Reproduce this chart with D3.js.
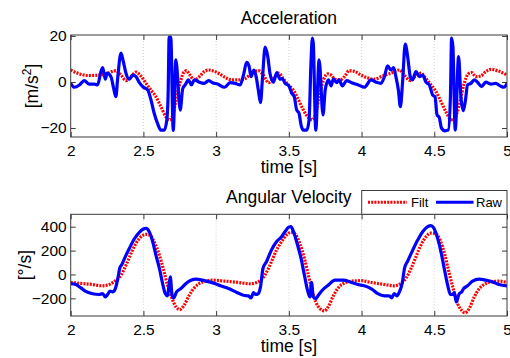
<!DOCTYPE html>
<html>
<head>
<meta charset="utf-8">
<script src="https://cdn.jsdelivr.net/npm/d3@7"></script>
<style>
  body { margin: 0; background: #fff; }
  svg { display: block; font-family: "Liberation Sans", Arial, sans-serif; }
</style>
</head>
<body>
<svg id="chart" width="510" height="358"></svg>
<script>
// tick values
const xTicks = [2, 2.5, 3, 3.5, 4, 4.5, 5];
const accTicks = [-20, 0, 20];
const gyroTicks = [-200, 0, 200, 400];

// acceleration [t, m/s^2]
const accRaw = [
  [2.000,-0.6],[2.025,-2.3],[2.060,-1.3],[2.093,0.6],[2.128,-0.9],[2.162,-0.9],[2.185,-1.3],[2.208,4.5],
  [2.220,6.2],[2.238,1.2],[2.250,3.8],[2.277,2.3],[2.295,-2.7],[2.311,-6.4],[2.322,0.9],[2.346,12.5],
  [2.362,8.8],[2.380,3.8],[2.403,1.2],[2.426,3.0],[2.449,2.3],[2.472,-0.3],[2.500,-2.3],[2.530,-3.5],
  [2.552,-7.8],[2.574,-13.6],[2.597,-18],[2.620,-20.9],[2.643,-20.9],[2.661,-16.5],[2.670,-5],[2.677,19.5],
  [2.688,19.5],[2.705,-21],[2.723,9.6],[2.753,-12.2],[2.770,-3],[2.787,-1.3],[2.810,0.9],[2.830,-1.3],
  [2.850,0.9],[2.884,-0.1],[2.918,-0.6],[2.948,0.6],[2.975,-0.3],[3.010,-0.9],[3.058,-2.3],[3.096,-0.3],
  [3.130,-0.6],[3.165,-1.3],[3.188,3.0],[3.210,8.5],[3.227,6.7],[3.240,2.3],[3.259,5.2],[3.275,2.3],
  [3.290,-3.5],[3.305,-9.0],[3.318,0.9],[3.337,15.1],[3.355,11],[3.370,3.8],[3.394,-0.1],[3.417,4.1],
  [3.440,1.2],[3.455,1.5],[3.474,-0.6],[3.500,-1.7],[3.520,-4.9],[3.537,-6.4],[3.554,-12.2],[3.570,-13.6],
  [3.584,-18.7],[3.600,-20.9],[3.623,-20.9],[3.639,-16.5],[3.652,8.1],[3.662,19],[3.668,16.8],[3.685,-20.9],
  [3.708,9.6],[3.735,-14.3],[3.750,-3.5],[3.772,0.9],[3.790,-1.7],[3.806,1.2],[3.829,-0.3],[3.845,0.9],
  [3.868,-1.7],[3.898,0.6],[3.932,-0.3],[3.978,-1.3],[4.019,-2.3],[4.065,0.9],[4.100,-0.1],[4.133,-0.6],
  [4.157,2.3],[4.179,7.0],[4.202,5.2],[4.220,6.2],[4.236,2.3],[4.253,-3.5],[4.267,-10.7],[4.283,0.9],
  [4.300,16.5],[4.317,11],[4.335,2.3],[4.350,0.9],[4.374,4.5],[4.397,2.3],[4.420,3.0],[4.443,-0.1],
  [4.466,-1.3],[4.489,-5.7],[4.505,-6.4],[4.519,-14.3],[4.534,-15.4],[4.550,-20.1],[4.573,-21.2],[4.596,-20.9],
  [4.611,-6.4],[4.619,19],[4.628,15.4],[4.644,-20.9],[4.667,11],[4.683,-6.4],[4.699,-12.5],[4.713,-8.5],
  [4.729,-1.3],[4.752,-0.6],[4.775,0.9],[4.797,-0.1],[4.825,-2.0],[4.854,-0.1],[4.889,-0.9],[4.923,-0.6],
  [4.953,-1.7],[4.980,-2.3],[5.000,-0.6]
];

const accFilt = [
  [2.000,5.2],[2.060,3.5],[2.128,2.8],[2.196,3.0],[2.242,3.5],[2.311,4.9],[2.346,3.0],[2.380,0.6],
  [2.415,2.3],[2.449,4.3],[2.483,2.6],[2.518,-0.6],[2.552,-3.5],[2.586,-6.4],[2.620,-10.7],[2.655,-15.1],
  [2.683,-16.5],[2.705,-13.6],[2.728,-6.4],[2.751,-0.6],[2.774,3.8],[2.797,4.9],[2.820,3.0],[2.850,0.9],
  [2.884,2.3],[2.918,4.5],[2.948,5.2],[2.980,4.8],[3.016,3.8],[3.062,2.0],[3.108,0.9],[3.153,0.9],
  [3.200,1.5],[3.245,3.8],[3.290,4.9],[3.325,3.0],[3.360,-0.3],[3.394,1.5],[3.430,3.8],[3.460,1.5],
  [3.497,-1.3],[3.530,-3.5],[3.566,-7.8],[3.600,-12.2],[3.634,-15.4],[3.662,-16.5],[3.685,-13.6],[3.708,-6.4],
  [3.738,0.9],[3.768,3.5],[3.790,3.0],[3.818,1.2],[3.852,0.9],[3.886,2.6],[3.914,4.9],[3.955,4.5],
  [3.990,3.2],[4.030,2.0],[4.088,1.2],[4.145,2.6],[4.202,3.8],[4.260,5.2],[4.294,3.0],[4.335,0.6],
  [4.367,2.3],[4.408,3.8],[4.443,1.5],[4.478,-1.3],[4.512,-4.2],[4.546,-8.5],[4.580,-12.9],[4.611,-16.2],
  [4.633,-16.5],[4.656,-13.6],[4.679,-7.8],[4.706,-0.6],[4.733,3.5],[4.756,4.1],[4.786,2.3],[4.820,2.6],
  [4.854,4.5],[4.889,5.5],[4.934,4.9],[5.000,3.0]
];

// angular velocity [t, deg/s]
const gyroRaw = [
  [2.000,-76],[2.035,-84],[2.070,-112],[2.100,-140],[2.150,-162],[2.196,-168],[2.220,-160],[2.238,-188],
  [2.254,-168],[2.270,-140],[2.288,-146],[2.307,-118],[2.322,-48],[2.338,56],[2.352,84],[2.375,148],
  [2.403,218],[2.437,297],[2.472,353],[2.500,381],[2.518,386],[2.540,358],[2.564,274],[2.586,162],
  [2.610,50],[2.632,-76],[2.650,-160],[2.666,-179],[2.675,-100],[2.685,-20],[2.697,-174],[2.708,-196],
  [2.728,-146],[2.758,-118],[2.793,-76],[2.827,-48],[2.862,-39],[2.907,-48],[2.953,-62],[2.990,-75],
  [3.030,-95],[3.085,-118],[3.142,-151],[3.188,-174],[3.222,-179],[3.240,-196],[3.257,-151],[3.270,-168],
  [3.290,-160],[3.305,-104],[3.322,50],[3.346,106],[3.380,204],[3.415,274],[3.450,316],[3.477,364],
  [3.500,398],[3.514,400],[3.536,344],[3.560,246],[3.584,134],[3.607,-6],[3.630,-140],[3.645,-188],
  [3.656,-67],[3.668,-188],[3.685,-202],[3.703,-174],[3.730,-132],[3.770,-90],[3.817,-48],[3.874,-48],
  [3.930,-67],[3.975,-84],[4.019,-95],[4.065,-118],[4.111,-160],[4.157,-179],[4.191,-179],[4.207,-196],
  [4.225,-160],[4.243,-179],[4.260,-146],[4.279,-76],[4.295,50],[4.317,112],[4.352,204],[4.386,288],
  [4.420,358],[4.455,400],[4.477,409],[4.495,392],[4.523,302],[4.546,190],[4.573,22],[4.592,-90],
  [4.611,-168],[4.627,-168],[4.638,-151],[4.651,-230],[4.672,-160],[4.688,-146],[4.702,-118],[4.729,-95],
  [4.763,-56],[4.809,-39],[4.854,-48],[4.900,-62],[4.945,-84],[5.000,-95]
];

const gyroFilt = [
  [2.000,-67],[2.080,-76],[2.150,-84],[2.220,-95],[2.265,-84],[2.311,-48],[2.346,-6],[2.380,78],
  [2.415,176],[2.449,260],[2.483,316],[2.518,336],[2.545,330],[2.574,274],[2.610,162],[2.636,50],
  [2.666,-90],[2.697,-202],[2.724,-272],[2.750,-294],[2.780,-258],[2.815,-174],[2.850,-112],[2.884,-76],
  [2.930,-56],[2.975,-48],[3.062,-56],[3.153,-67],[3.233,-78],[3.279,-67],[3.314,-39],[3.348,22],
  [3.380,106],[3.415,204],[3.450,274],[3.483,330],[3.518,353],[3.545,336],[3.575,260],[3.607,134],
  [3.634,-6],[3.657,-118],[3.685,-230],[3.714,-286],[3.744,-305],[3.770,-272],[3.806,-179],[3.840,-112],
  [3.874,-76],[3.930,-56],[4.000,-52],[4.065,-67],[4.157,-84],[4.225,-95],[4.270,-76],[4.304,-34],
  [4.340,50],[4.374,148],[4.408,246],[4.443,316],[4.477,347],[4.510,342],[4.540,288],[4.573,162],
  [4.603,8],[4.633,-132],[4.660,-244],[4.688,-300],[4.710,-322],[4.740,-286],[4.775,-188],[4.810,-118],
  [4.843,-84],[4.889,-62],[4.945,-56],[5.000,-67]
];

const svg = d3.select('#chart');
const left = 70.7, right = 507;
const boxColor = '#3a3a3a';

const x = d3.scaleLinear().domain([2, 5]).range([left, right]);

function panel({ top, bottom, yDomain, yTicks, title, ylabel, raw, filt, clipId }) {
  const y = d3.scaleLinear().domain(yDomain).range([bottom, top]);
  const g = svg.append('g');

  // grid
  g.selectAll('line.grid')
    .data(xTicks.slice(1, -1))
    .enter()
    .append('line')
    .attr('x1', d => x(d)).attr('x2', d => x(d))
    .attr('y1', top).attr('y2', bottom)
    .attr('stroke', '#c8c8c8')
    .attr('stroke-width', 0.8)
    .attr('stroke-dasharray', '1,2');

  g.append('clipPath').attr('id', clipId)
    .append('rect')
    .attr('x', left).attr('y', top)
    .attr('width', right - left).attr('height', bottom - top);

  const line = d3.line()
    .x(d => x(d[0]))
    .y(d => y(d[1]))
    .curve(d3.curveMonotoneX);

  const plot = g.append('g').attr('clip-path', `url(#${clipId})`);
  plot.append('path')
    .datum(filt)
    .attr('d', line)
    .attr('fill', 'none')
    .attr('stroke', '#ff0000')
    .attr('stroke-width', 3.2)
    .attr('stroke-dasharray', '2,1.2');
  plot.append('path')
    .datum(raw)
    .attr('d', line)
    .attr('fill', 'none')
    .attr('stroke', '#0000ff')
    .attr('stroke-width', 3.2)
    .attr('stroke-linejoin', 'round');

  // axes with inward ticks
  const styleAxis = sel => {
    sel.select('.domain').remove();
    sel.selectAll('.tick line').attr('stroke', boxColor);
    sel.selectAll('.tick text').attr('fill', '#000').style('font-size', '15.5px');
  };

  g.append('g')
    .attr('transform', `translate(0,${bottom})`)
    .call(d3.axisBottom(x).tickValues(xTicks).tickSize(-5).tickPadding(7.5).tickFormat(d3.format('')))
    .call(styleAxis);
  g.append('g')
    .attr('transform', `translate(0,${top})`)
    .call(d3.axisTop(x).tickValues(xTicks).tickSize(-5).tickFormat(''))
    .call(styleAxis);
  g.append('g')
    .attr('transform', `translate(${left},0)`)
    .call(d3.axisLeft(y).tickValues(yTicks).tickSize(-5).tickPadding(4))
    .call(styleAxis);
  g.append('g')
    .attr('transform', `translate(${right},0)`)
    .call(d3.axisRight(y).tickValues(yTicks).tickSize(-5).tickFormat(''))
    .call(styleAxis);

  g.append('rect')
    .attr('x', left).attr('y', top)
    .attr('width', right - left).attr('height', bottom - top)
    .attr('fill', 'none')
    .attr('stroke', boxColor);

  const cx = (left + right) / 2;
  g.append('text')
    .attr('x', cx).attr('y', top - 11.5)
    .attr('text-anchor', 'middle')
    .style('font-size', '17.5px')
    .text(title);

  g.append('text')
    .attr('x', cx).attr('y', bottom + 36)
    .attr('text-anchor', 'middle')
    .style('font-size', '17.5px')
    .text('time [s]');

  const yl = g.append('text')
    .attr('transform', `translate(${ylabel.x},${(top + bottom) / 2}) rotate(-90)`)
    .attr('text-anchor', 'middle')
    .style('font-size', '17.5px');
  yl.append('tspan').text(ylabel.text);
  if (ylabel.sup) {
    yl.append('tspan').attr('dy', -7).style('font-size', '12px').text(ylabel.sup);
    yl.append('tspan').attr('dy', 7).text(ylabel.tail);
  }

  return g;
}

panel({
  top: 35, bottom: 137,
  yDomain: [-23.9, 20.4], yTicks: accTicks,
  title: 'Acceleration',
  ylabel: { x: 38, text: '[m/s', sup: '2', tail: ']' },
  raw: accRaw, filt: accFilt, clipId: 'clipA'
});

panel({
  top: 214.3, bottom: 316,
  yDomain: [-348, 504], yTicks: gyroTicks,
  title: 'Angular Velocity',
  ylabel: { x: 31, text: '[°/s]' },
  raw: gyroRaw, filt: gyroFilt, clipId: 'clipB'
});

// legend
const lg = svg.append('g');
lg.append('rect')
  .attr('x', 361.7).attr('y', 190.5)
  .attr('width', 145.3).attr('height', 23.8)
  .attr('fill', '#fff')
  .attr('stroke', boxColor);
lg.append('line')
  .attr('x1', 368).attr('x2', 407).attr('y1', 202.3).attr('y2', 202.3)
  .attr('stroke', '#ff0000').attr('stroke-width', 3).attr('stroke-dasharray', '2,1.2');
lg.append('text')
  .attr('x', 411).attr('y', 207)
  .style('font-size', '13px')
  .text('Filt');
lg.append('line')
  .attr('x1', 436).attr('x2', 473.5).attr('y1', 202.3).attr('y2', 202.3)
  .attr('stroke', '#0000ff').attr('stroke-width', 3);
lg.append('text')
  .attr('x', 476).attr('y', 207)
  .style('font-size', '13px')
  .text('Raw');
</script>
</body>
</html>
